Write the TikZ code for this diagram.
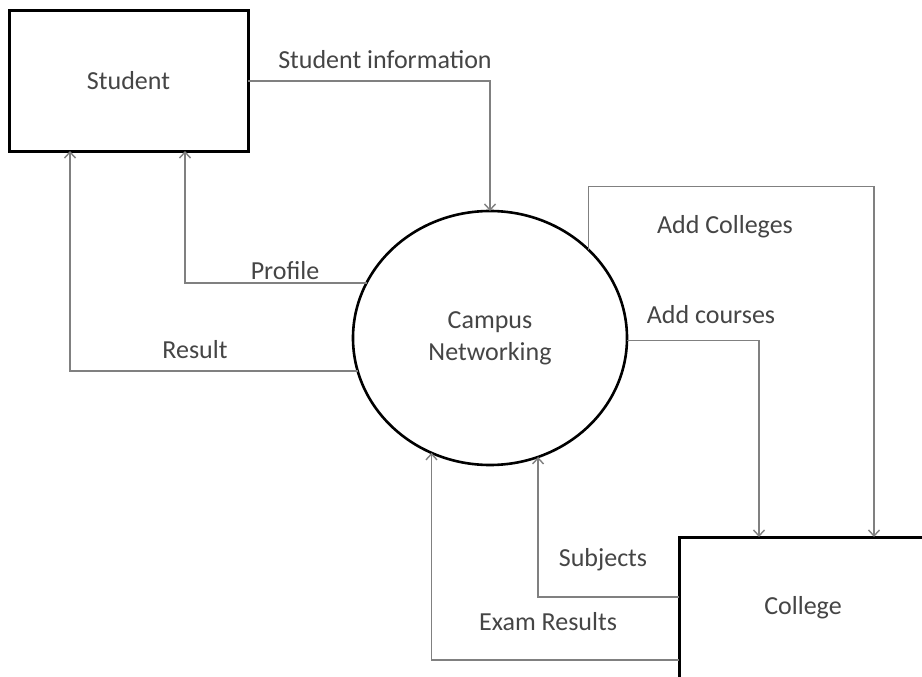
\documentclass[tikz,border=0pt]{standalone}
\usepackage{fontspec}
\setmainfont{Carlito}
\usetikzlibrary{arrows.meta,shapes.geometric}
\definecolor{txt}{HTML}{454545}
\definecolor{flowline}{HTML}{808080}
\begin{document}
\begin{tikzpicture}[x=1pt,y=-1pt,
  font=\fontsize{26}{32}\selectfont,
  entity/.style={draw=black,line width=3pt,rectangle,text=txt,inner sep=0pt,outer sep=0pt},
  process/.style={draw=black,line width=2.6pt,ellipse,text=txt,align=center,inner sep=0pt,outer sep=0pt,
    minimum width=274pt,minimum height=254pt},
  flow/.style={draw=flowline,line width=1.4pt,-{Straight Barb[length=6pt,width=11pt]}},
  lbl/.style={text=txt,inner sep=0pt}]
\useasboundingbox[fill=white] (0,0) rectangle (922,677);

% external entities and the central process
\node[entity,minimum width=239pt,minimum height=140pt] (student) at (128.5,81) {Student};
\node[process] (campus) at (490,338) {Campus\\Networking};
\node[entity,minimum width=248pt,minimum height=142pt] (college) at (803,608) {College};

% data flows
\draw[flow] (student.east) -| (campus.north);
\draw[flow] (campus.156) -| ([xshift=176pt]student.south west);
\draw[flow] (campus.194) -| ([xshift=61pt]student.south west);
\draw[flow] (campus.42) -- ++(0,-63) -| ([xshift=195pt]college.north west);
\draw[flow] (campus.-1) -| ([xshift=80pt]college.north west);
\draw[flow] ([yshift=11pt]college.west) -| (campus.292.4);
\draw[flow] ([yshift=-52pt]college.west) -| (campus.243.7);

% flow labels
\node[lbl] (l1) at (385,60) {Student information};
\node[lbl] (l2) at (285,271) {Profile};
\node[lbl] (l3) at (195,350) {Result};
\node[lbl] (l4) at (725,227) {Add Colleges};
\node[lbl] (l5) at (711,315) {Add courses};
\node[lbl] (l6) at (603,560) {Subjects};
\node[lbl] (l7) at (548,622) {Exam Results};
\end{tikzpicture}
\end{document}
